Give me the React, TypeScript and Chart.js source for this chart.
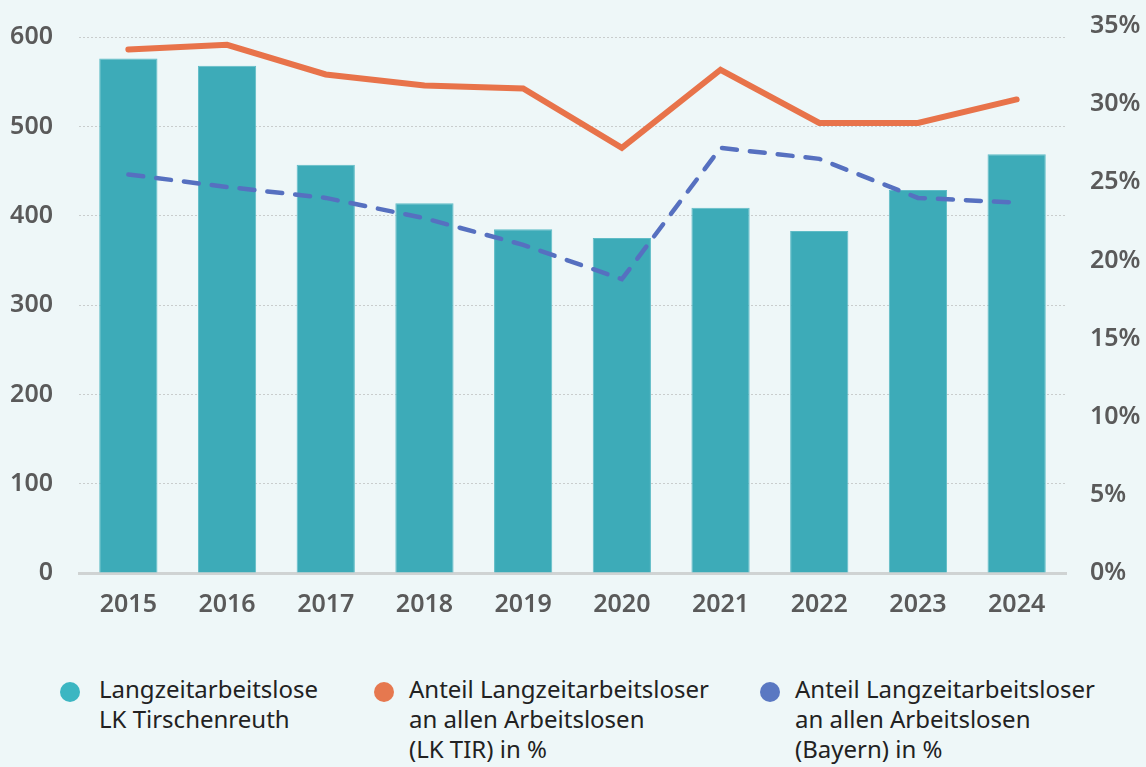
import React, { useEffect, useRef } from "react";
import { Chart, registerables } from "chart.js";

Chart.register(...registerables);

const years = ["2015", "2016", "2017", "2018", "2019", "2020", "2021", "2022", "2023", "2024"];
const langzeitTIR = [576, 568, 457, 414, 385, 375, 409, 383, 429, 469];
const anteilTIR = [33.5, 33.8, 31.9, 31.2, 31.0, 27.2, 32.2, 28.8, 28.8, 30.3];
const anteilBayern = [25.5, 24.7, 24.0, 22.7, 21.0, 18.8, 27.2, 26.5, 24.0, 23.7];
const leftTicks = [0, 100, 200, 300, 400, 500, 600];

const legendItems = [
  { color: "#3cb6c2", lines: ["Langzeitarbeitslose", "LK Tirschenreuth"], cx: 70, text: 99 },
  { color: "#e6784f", lines: ["Anteil Langzeitarbeitsloser", "an allen Arbeitslosen", "(LK TIR) in %"], cx: 384, text: 409 },
  { color: "#5a78c2", lines: ["Anteil Langzeitarbeitsloser", "an allen Arbeitslosen", "(Bayern) in %"], cx: 770, text: 795 },
];

const BG = "#eef7f8";
const TICK_FONT = { family: "'Noto Sans', sans-serif", size: 25, weight: 600 as any };

export default function App() {
  const ref = useRef<HTMLCanvasElement | null>(null);

  useEffect(() => {
    if (!ref.current) return;
    const chart = new Chart(ref.current, {
      data: {
        labels: years,
        datasets: [
          {
            type: "line",
            data: anteilTIR,
            yAxisID: "y1",
            borderColor: "#e8734a",
            borderWidth: 6,
            pointRadius: 0,
            borderCapStyle: "round",
            borderJoinStyle: "miter",
            tension: 0,
            order: 0,
          },
          {
            type: "line",
            data: anteilBayern,
            yAxisID: "y1",
            borderColor: "#5670c0",
            borderWidth: 4.5,
            borderDash: [15, 13],
            borderCapStyle: "round",
            pointRadius: 0,
            tension: 0,
            order: 1,
          },
          {
            type: "bar",
            data: langzeitTIR,
            yAxisID: "y",
            backgroundColor: "#3dabb8",
            borderColor: "#5fbcc6",
            borderWidth: 1,
            categoryPercentage: 1,
            barPercentage: 0.59,
            order: 2,
          },
        ],
      },
      options: {
        animation: false,
        responsive: false,
        maintainAspectRatio: false,
        layout: { padding: { top: 26, left: 0, right: 0, bottom: 0 } },
        plugins: { legend: { display: false }, tooltip: { enabled: false } },
        scales: {
          x: {
            grid: { display: false, drawTicks: false },
            border: { display: true, color: "#cfd3d3", width: 3 },
            ticks: { color: "#5a5a5a", font: TICK_FONT, padding: 17 },
            afterFit: (a: any) => { a.height = 640 - 573; a.paddingLeft = 0; a.paddingRight = 0; },
          },
          y: {
            position: "left",
            min: 0,
            max: 612.5,
            ticks: { color: "#5a5a5a", font: TICK_FONT, padding: 26 },
            afterBuildTicks: (a: any) => { a.ticks = leftTicks.map((v) => ({ value: v })); },
            grid: { color: "#c9cdcd", lineWidth: 1, drawTicks: false },
            border: { display: false, dash: [2, 2] },
            afterFit: (a: any) => { a.width = 79; a.paddingTop = 0; a.paddingBottom = 0; },
          },
          y1: {
            position: "right",
            min: 0,
            max: 35,
            ticks: { stepSize: 5, color: "#5a5a5a", font: TICK_FONT, padding: 24, callback: (v: any) => v + "%" },
            grid: { display: false, drawTicks: false },
            border: { display: false },
            afterFit: (a: any) => { a.width = 80; a.paddingTop = 0; a.paddingBottom = 0; },
          },
        },
      },
    });
    return () => chart.destroy();
  }, []);

  return (
    <div style={{ position: "absolute", left: 0, top: 0, width: 1146, height: 767, background: BG, overflow: "hidden" }}>
      <canvas ref={ref} width={1146} height={640} style={{ position: "absolute", left: 0, top: 0, width: 1146, height: 640 }} />
      {legendItems.map((it, i) => (
        <div key={i}>
          <div style={{ position: "absolute", left: it.cx - 10, top: 682, width: 20, height: 20, borderRadius: 10, background: it.color }} />
          <div style={{ position: "absolute", left: it.text, top: 674, fontFamily: "'Noto Sans', sans-serif", fontSize: 24, lineHeight: "30px", color: "#222", whiteSpace: "nowrap" }}>
            {it.lines.map((l, j) => (<div key={j}>{l}</div>))}
          </div>
        </div>
      ))}
    </div>
  );
}
